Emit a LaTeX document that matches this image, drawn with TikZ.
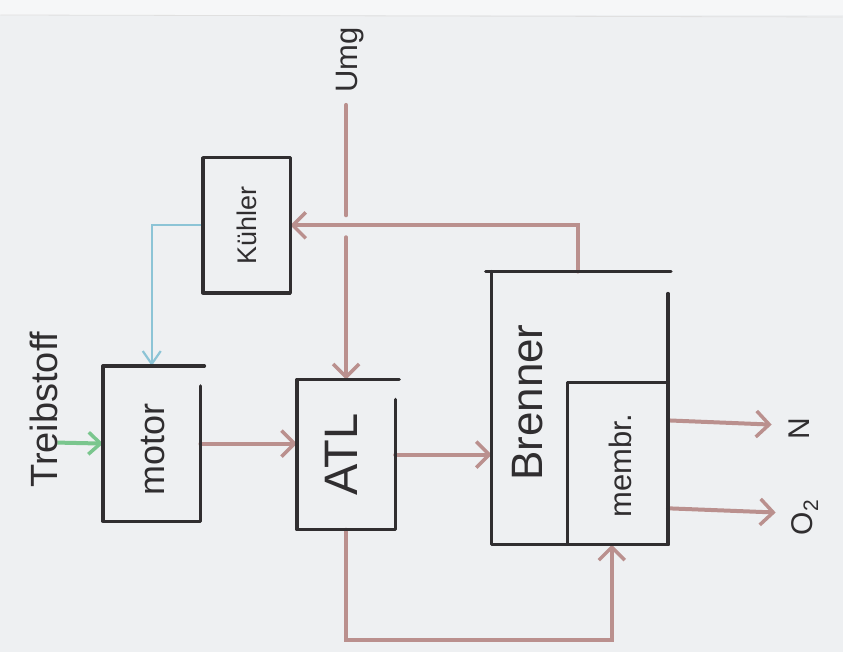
\documentclass[tikz,border=0pt]{standalone}
\usepackage{fontspec}
\setmainfont{Liberation Sans}
\usetikzlibrary{arrows.meta,calc}
\definecolor{bg}{RGB}{238,240,242}
\definecolor{edgebg}{RGB}{246,247,248}
\definecolor{ink}{RGB}{48,46,48}
\definecolor{marker}{RGB}{186,144,142}
\definecolor{bluemk}{RGB}{140,196,214}
\definecolor{greenmk}{RGB}{122,198,142}
\newcommand\openbox[1]{\draw[boxline] ([xshift=4pt]#1.north east) -- (#1.north west) -- (#1.south west) -- (#1.south east) -- ([yshift=-20pt]#1.north east);}
\begin{document}
\begin{tikzpicture}[x=1pt,y=-1pt,
  box/.style={draw=none,inner sep=0pt},
  boxline/.style={draw=ink,line width=3.4pt,line join=round,line cap=round},
  lbl/.style={text=ink,rotate=90,inner sep=0pt},
  arr/.style={draw=marker,line width=4pt,line cap=round,-{Straight Barb[length=13pt,width=26pt,line width=3.5pt]}},
  flow/.style={draw=marker,line width=4pt,line cap=round},
  bluearr/.style={draw=bluemk,line width=2.2pt,-{Straight Barb[length=13pt,width=18pt,line width=2.2pt]}},
  greenarr/.style={draw=greenmk,line width=4pt,-{Straight Barb[length=12pt,width=22pt,line width=3.5pt]}}]
\fill[bg] (0,0) rectangle (843,653);
% boxes
\node[box,minimum width=97pt,minimum height=155pt] (motor) at (151.5,444) {};
\node[box,minimum width=87pt,minimum height=135pt] (kuehler) at (246.5,225.5) {};
\node[box,minimum width=98pt,minimum height=150pt] (atl) at (346,455) {};
\node[box,minimum width=176pt,minimum height=273pt] (brenner) at (580,408.5) {};
\node[box,minimum width=100pt,minimum height=162pt] (membr) at (618,464) {};
% free ends
\coordinate (umend) at (346,105);
\coordinate (fuel) at (57,443);
\coordinate (nstart) at ($(membr.north east)+(0,38)$);
\coordinate (ostart) at ($(membr.north east)+(0,126)$);
\coordinate (nend) at (772,425);
\coordinate (oend) at (776,513);
\coordinate (bk) at ($(brenner.north west)+(86,0)$);
\coordinate (gapA) at ($(umend |- kuehler.east)+(0,-10)$);
\coordinate (gapB) at ($(umend |- kuehler.east)+(0,12)$);
% connectors
\draw[flow] (umend) -- (gapA);
\draw[arr] (gapB) -- (atl.north);
\draw[arr] (bk) |- (kuehler.east);
\draw[bluearr] (kuehler.west) -| (motor.north);
\draw[greenarr] (fuel) -- (motor.west);
\draw[arr] (motor.east) -- (motor.east -| atl.west);
\draw[arr] (atl.east) -- (atl.east -| brenner.west);
\draw[arr] (atl.south) -- ++(0,110) -| ($(membr.south)+(-6,0)$);
\draw[arr] (nstart) -- (nend);
\draw[arr] (ostart) -- (oend);
% box outlines
\openbox{motor}
\openbox{atl}
\draw[boxline] (kuehler.north west) rectangle (kuehler.south east);
\draw[boxline] ([xshift=3pt]brenner.north east) -- ([xshift=-6pt]brenner.north west);
\draw[boxline] (brenner.north west) -- (brenner.south west) -- (brenner.south east) -- ([yshift=-22pt]brenner.north east);
\draw[boxline] (membr.north west) rectangle (membr.south east);
% labels
\node[lbl,font=\fontsize{36}{36}\selectfont] (motortxt) at (153,450) {motor};
\node[lbl,font=\fontsize{27}{27}\selectfont] (kuehlertxt) at (kuehler) {Kühler};
\node[lbl,font=\fontsize{47}{47}\selectfont] (atltxt) at (341,455) {ATL};
\node[lbl,font=\fontsize{44}{44}\selectfont] (brennertxt) at (528,403) {Brenner};
\node[lbl,font=\fontsize{31}{31}\selectfont] (membrtxt) at (621,466) {membr.};
\node[lbl,font=\fontsize{38}{38}\selectfont] (fueltxt) at (44,410) {Treibstoff};
\node[lbl,font=\fontsize{31}{31}\selectfont,anchor=base west] (umtxt) at (357,93) {Umg};
\node[lbl,font=\fontsize{30}{30}\selectfont] (ntxt) at (800,429) {N};
\node[lbl,font=\fontsize{30}{30}\selectfont] (otxt) at (805,518) {O\textsubscript{2}};
% paper edge
\fill[edgebg] (0,0) rectangle (843,15);
\draw[black!12,line width=0.8pt] (0,15) -- (843,17);
\end{tikzpicture}
\end{document}
